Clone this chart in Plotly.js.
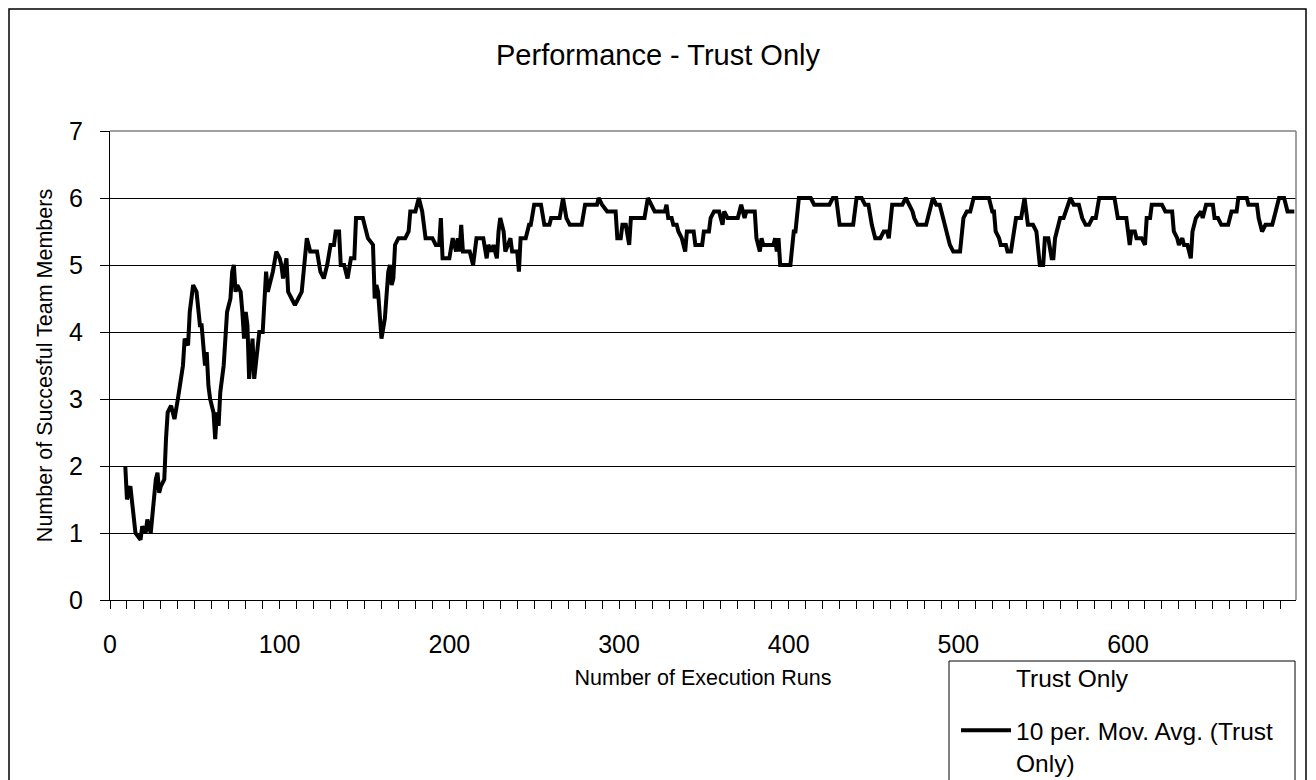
<!DOCTYPE html>
<html>
<head>
<meta charset="utf-8">
<script src="https://cdn.plot.ly/plotly-3.0.1.min.js"></script>
<style>
  html, body { margin: 0; padding: 0; background: #fff; }
  #chart { width: 1316px; height: 780px; }
</style>
</head>
<body>
<div id="chart"></div>
<script>
// Execution run index of each moving-average reading
const runs = [9,10,12,15,18,19,21,22,24,25,27,28,29,30,32,33,34,36,38,40,42,43,44,46,47,49,51,53,54,55,56,57,58,59,61,62,63,64,65,67,69,71,72,73,74,75,77,78,79,80,81,82,84,85,87,88,90,91,92,93,95,96,98,100,101,102,104,105,107,109,111,113,116,118,122,124,126,128,130,132,133,135,136,138,140,142,144,145,149,151,152,155,156,157,158,160,161,162,164,165,166,167,168,170,174,176,177,180,182,184,186,190,192,194,195,196,200,202,204,205,206,207,208,212,214,216,220,222,223,225,226,228,229,230,232,233,236,237,240,241,242,245,247,248,250,254,256,259,260,265,267,269,271,278,280,287,288,290,293,298,299,301,302,304,306,307,315,317,319,321,327,328,329,331,332,334,335,337,339,340,344,345,349,350,353,354,356,359,361,362,364,370,372,374,375,380,381,383,384,385,391,392,393,394,395,401,403,404,406,413,415,424,426,428,430,438,440,443,445,447,449,451,454,456,458,459,461,467,469,471,473,474,476,481,483,485,487,489,491,493,495,497,501,503,505,507,509,518,520,521,522,524,525,528,529,531,533,534,537,539,541,544,546,547,548,550,551,553,555,556,557,560,562,566,568,571,573,575,577,579,581,583,592,594,599,601,602,604,605,608,610,611,613,614,620,622,626,627,629,630,632,633,635,636,637,638,639,640,643,644,646,650,651,653,655,659,661,664,665,670,671,676,677,679,681,685,687,689,692,694,698];

// 10 period moving average of successful team members
const movAvg = [2.0,1.5,1.7,1.0,0.9,1.1,1.0,1.2,1.0,1.3,1.8,1.9,1.6,1.7,1.8,2.4,2.8,2.9,2.7,3.0,3.4,3.5,3.9,3.8,4.3,4.7,4.6,4.1,4.1,3.7,3.5,3.7,3.2,3.0,2.8,2.4,2.8,2.6,3.1,3.5,4.3,4.5,4.9,5.0,4.6,4.7,4.6,4.3,3.9,4.3,4.1,3.3,3.9,3.3,3.7,4.0,4.0,4.6,4.9,4.6,4.8,4.9,5.2,5.1,5.0,4.8,5.1,4.6,4.5,4.4,4.5,4.6,5.4,5.2,5.2,4.9,4.8,5.0,5.3,5.3,5.5,5.5,5.0,5.0,4.8,5.1,5.1,5.7,5.7,5.5,5.4,5.3,4.5,4.7,4.6,3.9,4.1,4.2,4.9,5.0,4.7,4.8,5.3,5.4,5.4,5.5,5.8,5.8,6.0,5.8,5.4,5.4,5.3,5.3,5.7,5.1,5.1,5.4,5.2,5.4,5.2,5.6,5.2,5.2,5.0,5.4,5.4,5.1,5.3,5.2,5.3,5.1,5.5,5.7,5.5,5.2,5.4,5.2,5.2,4.9,5.4,5.4,5.6,5.6,5.9,5.9,5.6,5.6,5.7,5.7,6.0,5.7,5.6,5.6,5.9,5.9,6.0,5.9,5.8,5.8,5.4,5.4,5.6,5.6,5.3,5.7,5.7,6.0,5.9,5.8,5.8,5.9,5.7,5.7,5.6,5.6,5.5,5.4,5.2,5.5,5.5,5.3,5.3,5.5,5.5,5.7,5.8,5.8,5.6,5.8,5.7,5.7,5.9,5.7,5.8,5.8,5.4,5.2,5.4,5.3,5.3,5.4,5.2,5.4,5.0,5.0,5.5,5.5,6.0,6.0,5.9,5.9,6.0,6.0,5.6,5.6,6.0,6.0,5.9,5.9,5.6,5.4,5.4,5.5,5.5,5.4,5.9,5.9,6.0,5.9,5.8,5.7,5.6,5.6,5.8,6.0,5.9,5.9,5.7,5.5,5.3,5.2,5.2,5.7,5.8,5.8,6.0,6.0,5.8,5.8,5.5,5.4,5.3,5.3,5.2,5.2,5.5,5.7,5.7,6.0,5.6,5.6,5.5,5.3,5.0,5.0,5.4,5.4,5.1,5.1,5.4,5.7,5.7,6.0,5.9,5.9,5.7,5.6,5.6,5.7,5.7,6.0,6.0,5.7,5.7,5.3,5.5,5.5,5.4,5.4,5.3,5.7,5.7,5.9,5.9,5.8,5.8,5.5,5.4,5.3,5.4,5.3,5.3,5.2,5.1,5.5,5.6,5.7,5.8,5.7,5.9,5.9,5.7,5.7,5.6,5.6,5.8,5.8,6.0,6.0,5.9,5.9,5.7,5.5,5.6,5.6,5.8,6.0,6.0,5.8,5.8];

const seriesNames = ['Trust Only', '10 per. Mov. Avg. (Trust<br>Only)'];
const chartTitle = 'Performance - Trust Only';
const xTitle = 'Number of Execution Runs';
const yTitle = 'Number of Succesful Team Members';

const FONT = 'Liberation Sans, Arial, Helvetica, sans-serif';

// plot area in pixels: left 110, right 1296, top 131, bottom 600
const L = 110, R = 1296, T = 131, B = 600;
const W = R - L, H = B - T;
const px = v => (v - L) / W;
const py = v => (B - v) / H;

const traces = [
  {
    // the raw "Trust Only" series is not drawn in the original (no line, no marker)
    x: runs, y: movAvg,
    name: seriesNames[0],
    type: 'scatter', mode: 'lines',
    line: {color: 'rgba(0,0,0,0)', width: 0},
    legendgroup: 'raw', showlegend: true,
    hoverinfo: 'skip'
  },
  {
    x: runs, y: movAvg,
    name: seriesNames[1],
    type: 'scatter', mode: 'lines',
    line: {color: '#000', width: 4},
    legendgroup: 'avg'
  }
];

const layout = {
  width: 1316, height: 780,
  margin: {l: L, r: 1316 - R, t: T, b: 780 - B, autoexpand: false},
  paper_bgcolor: '#fff', plot_bgcolor: '#fff',
  font: {family: FONT, color: '#000'},
  title: {
    text: chartTitle,
    font: {family: FONT, size: 29, color: '#000'},
    x: 0.5, xref: 'container', xanchor: 'center',
    y: 1 - 55 / 780, yref: 'container', yanchor: 'middle'
  },
  xaxis: {
    range: [0, 699], tick0: 0, dtick: 100,
    ticks: 'outside', ticklen: 8, tickwidth: 1, tickcolor: '#000',
    minor: {dtick: 10, tick0: 0, ticks: 'outside', ticklen: 8, tickwidth: 1, tickcolor: '#000', showgrid: false},
    showline: true, linecolor: '#000', linewidth: 1,
    showgrid: false, zeroline: false,
    tickfont: {family: FONT, size: 25, color: '#000'},
    ticklabelstandoff: 14,
    title: {text: xTitle, font: {family: FONT, size: 21.5, color: '#000'}, standoff: 12}
  },
  yaxis: {
    range: [0, 7], tick0: 0, dtick: 1,
    ticks: 'outside', ticklen: 9, tickwidth: 1, tickcolor: '#000',
    showline: true, linecolor: '#000', linewidth: 1,
    showgrid: true, gridcolor: '#000', gridwidth: 1, zeroline: false,
    tickfont: {family: FONT, size: 25, color: '#000'},
    ticklabelstandoff: 12,
    title: {text: yTitle, font: {family: FONT, size: 21.5, color: '#000'}, standoff: 10}
  },
  legend: {
    x: px(956), xanchor: 'left',
    y: py(655), yanchor: 'top',
    bgcolor: 'rgba(0,0,0,0)', borderwidth: 0,
    font: {family: FONT, size: 24.5, color: '#000'},
    traceorder: 'grouped', tracegroupgap: 18,
    valign: 'top', itemwidth: 50
  },
  shapes: [
    // outer chart frame
    {type: 'rect', xref: 'paper', yref: 'paper', x0: px(9), x1: px(1306), y0: py(795), y1: py(9),
     line: {color: '#000', width: 1.5}, fillcolor: 'rgba(0,0,0,0)', layer: 'below'},
    // plot area border (top and right, grey)
    {type: 'line', xref: 'paper', yref: 'paper', x0: 0, x1: 1, y0: 1, y1: 1,
     line: {color: '#808080', width: 1.5}, layer: 'above'},
    {type: 'line', xref: 'paper', yref: 'paper', x0: 1, x1: 1, y0: 0, y1: 1,
     line: {color: '#808080', width: 1.5}, layer: 'above'},
    // legend frame
    {type: 'rect', xref: 'paper', yref: 'paper', x0: px(949), x1: px(1295), y0: py(795), y1: py(661),
     line: {color: '#000', width: 1}, fillcolor: 'rgba(0,0,0,0)', layer: 'below'}
  ],
  showlegend: true
};

Plotly.newPlot('chart', traces, layout, {displayModeBar: false, staticPlot: true});
</script>
</body>
</html>
